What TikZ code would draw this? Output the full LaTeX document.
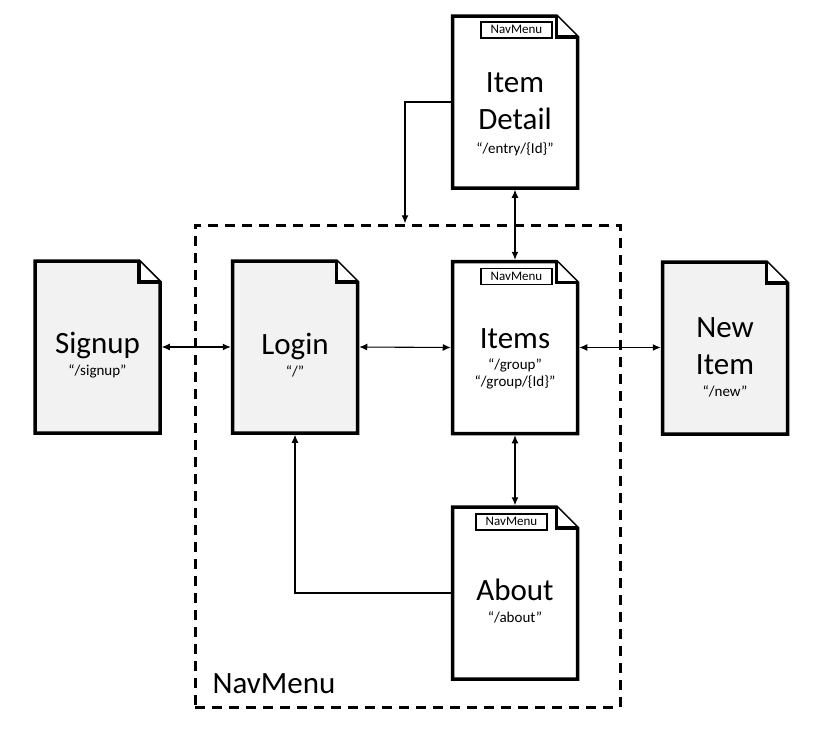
\documentclass[tikz,border=0pt]{standalone}
\usepackage{fontspec}
\setmainfont{Carlito}
\usetikzlibrary{arrows.meta,positioning,backgrounds}
\definecolor{pagegray}{RGB}{242,242,242}
\newcommand\route[1]{{\fontsize{15}{18}\selectfont #1}}
\newcommand\pagestrut[1][38pt]{\rule{0pt}{#1}}
\tikzset{
  page/.style={minimum width=125pt, minimum height=172pt, inner sep=0pt, outer sep=0pt,
    align=center, font=\fontsize{31}{37}\selectfont},
  pageline/.style={line width=3.5pt, line join=miter},
  navbox/.style={draw, line width=1.5pt, minimum width=71pt, minimum height=16pt,
    inner sep=0pt, font=\fontsize{13}{15}\selectfont},
  navframe/.style={draw, line width=3pt, dash pattern=on 10pt off 7pt,
    minimum width=425pt, minimum height=482pt, outer sep=0pt},
  link/.style={line width=1.1pt, shorten <=1.75pt, shorten >=1.75pt,
    >={Latex[length=8pt,width=7pt]}},
}
\begin{document}
\begin{tikzpicture}[x=1pt,y=-1pt]
  \useasboundingbox (0,0) rectangle (825,736);
  \node[navframe] (nav) at (407.5,466) {};
  \node[anchor=base west, font=\fontsize{31}{37}\selectfont] (navlabel)
    at ([xshift=14pt,yshift=14pt]nav.south west) {NavMenu};

  \node[page] (signup)  at (97.5,347)  {\pagestrut Signup\\[-15pt]\route{“/signup”}};
  \node[page] (login)   at (295,347)   {\pagestrut Login\\[-15pt]\route{“/”}};
  \node[page] (items)   at (515,347.5) {\pagestrut[42pt]Items\\[-16pt]\route{“/group”}\\[-20pt]\route{“/group/\{Id\}”}};
  \node[page] (newitem) at (725,348)   {\pagestrut New\\Item\\[-15pt]\route{“/new”}};
  \node[page] (idetail) at (515,102)   {\pagestrut[44pt]Item\\Detail\\[-13pt]\route{“/entry/\{Id\}”}};
  \node[page] (about)   at (515,593)   {\pagestrut About\\[-15pt]\route{“/about”}};

  \node[navbox, below=5pt of idetail.north, xshift=1.5pt] (idetailnav) {NavMenu};
  \node[navbox, below=6pt of items.north, xshift=1.5pt]   (itemsnav)   {NavMenu};
  \node[navbox, below=6pt of about.north, xshift=-3.5pt]  (aboutnav)   {NavMenu};

  % page outlines with folded corner
  \begin{scope}[on background layer]
    \foreach \p/\c in {signup/pagegray, login/pagegray, newitem/pagegray,
                       items/white, idetail/white, about/white}{
      \draw[pageline, fill=\c] (\p.north west) -- ([xshift=-21pt]\p.north east)
        -- ([yshift=-21pt]\p.north east) -- (\p.south east) -- (\p.south west) -- cycle;
      \draw[pageline, fill=white] ([xshift=-21pt]\p.north east)
        -- ([xshift=-21pt,yshift=-21pt]\p.north east) -- ([yshift=-21pt]\p.north east);
    }
  \end{scope}

  \draw[link,<->] (signup.east) -- (login.west);
  \draw[link,<->] (login.east) -- (items.west);
  \draw[link,<->] (items.east) -- (items.east -| newitem.west);
  \draw[link,<->] (idetail.south) -- (items.north);
  \draw[link,<->] (items.south) -- (about.north);
  \draw[link,->] (idetail.west) -| ([xshift=-2.5pt]nav.north);
  \draw[link,->] (about.west) -| (login.south);
\end{tikzpicture}
\end{document}
